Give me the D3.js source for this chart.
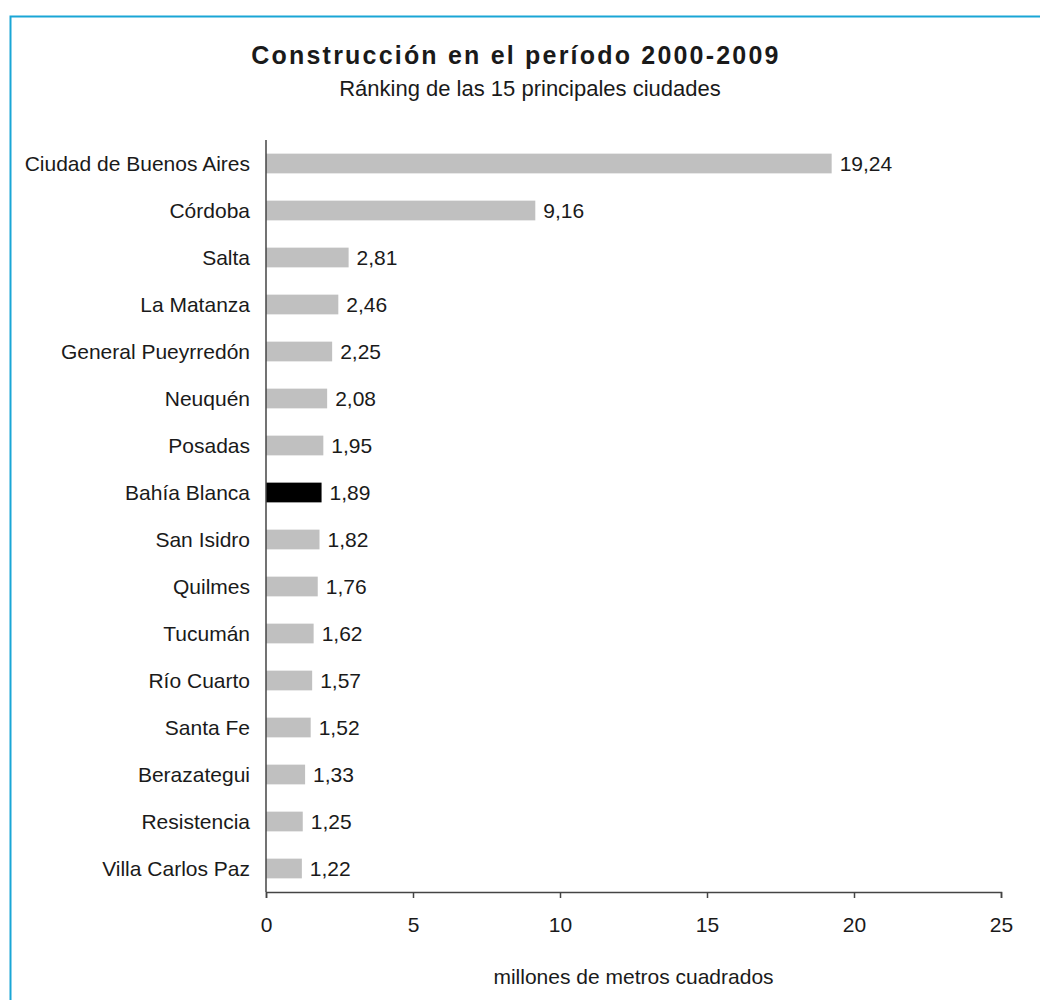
<!DOCTYPE html>
<html>
<head>
<meta charset="utf-8">
<script src="https://cdn.jsdelivr.net/npm/d3@7"></script>
<style>
  body { margin: 0; background: #fff; }
  text { font-family: "Liberation Sans", Arial, Helvetica, sans-serif; fill: #1a1a1a; }
</style>
</head>
<body>
<div id="chart"></div>
<script>
// ciudades y valores (millones de m2)
var cities = ["Ciudad de Buenos Aires", "Córdoba", "Salta", "La Matanza", "General Pueyrredón",
  "Neuquén", "Posadas", "Bahía Blanca", "San Isidro", "Quilmes", "Tucumán", "Río Cuarto",
  "Santa Fe", "Berazategui", "Resistencia", "Villa Carlos Paz"];
var values = [19.24, 9.16, 2.81, 2.46, 2.25, 2.08, 1.95, 1.89, 1.82, 1.76, 1.62, 1.57, 1.52, 1.33, 1.25, 1.22];
var highlight = "Bahía Blanca";
var xTicks = [0, 5, 10, 15, 20, 25];

var width = 1040, height = 1000;
var margin = {left: 266, right: 39, top: 140, bottom: 108};

var svg = d3.select("#chart").append("svg")
  .attr("width", width)
  .attr("height", height);

// marco
svg.append("rect")
  .attr("x", 10.5).attr("y", 16.5)
  .attr("width", 1100).attr("height", 1100)
  .attr("fill", "none")
  .attr("stroke", "#1aa6d6")
  .attr("stroke-width", 2);

var x = d3.scaleLinear().domain([0, 25]).range([margin.left, width - margin.right]);
var y = d3.scaleBand().domain(cities).range([margin.top, height - margin.bottom]).paddingInner(0.58).paddingOuter(0.29);

var data = cities.map(function(c, i) { return {city: c, value: values[i]}; });

svg.selectAll("rect.bar")
  .data(data)
  .enter().append("rect")
  .attr("class", "bar")
  .attr("x", x(0))
  .attr("y", function(d) { return y(d.city); })
  .attr("width", function(d) { return x(d.value) - x(0); })
  .attr("height", y.bandwidth())
  .attr("fill", function(d) { return d.city == highlight ? "#000" : "#c0c0c0"; });

var fmt = function(v) { return d3.format(".2f")(v).replace(".", ","); };

svg.selectAll("text.val")
  .data(data)
  .enter().append("text")
  .attr("class", "val")
  .attr("x", function(d) { return x(d.value) + 8; })
  .attr("y", function(d) { return y(d.city) + y.bandwidth() / 2; })
  .attr("dy", "0.35em")
  .style("font-size", "21px")
  .text(function(d) { return fmt(d.value); });

svg.selectAll("text.city")
  .data(data)
  .enter().append("text")
  .attr("class", "city")
  .attr("x", 250)
  .attr("y", function(d) { return y(d.city) + y.bandwidth() / 2; })
  .attr("dy", "0.35em")
  .attr("text-anchor", "end")
  .style("font-size", "21px")
  .text(function(d) { return d.city; });

// ejes
var axisY = height - margin.bottom;
var xAxis = svg.append("g")
  .attr("transform", "translate(0," + axisY + ")")
  .call(d3.axisBottom(x).tickValues(xTicks).tickSize(6).tickPadding(19).tickFormat(d3.format("d")));
xAxis.select(".domain").attr("stroke", "#444").attr("stroke-width", 1.5);
xAxis.selectAll(".tick line").attr("stroke", "#444").attr("stroke-width", 1.5);
xAxis.selectAll(".tick text")
  .style("font-size", "21px")
  .style("font-family", "'Liberation Sans', Arial, sans-serif")
  .attr("fill", "#1a1a1a");

svg.append("line")
  .attr("x1", x(0)).attr("x2", x(0))
  .attr("y1", margin.top).attr("y2", axisY)
  .attr("stroke", "#444").attr("stroke-width", 1.5);

svg.append("text")
  .attr("x", 516).attr("y", 64)
  .attr("text-anchor", "middle")
  .style("font-size", "25px")
  .style("font-weight", "bold")
  .style("letter-spacing", "2.2px")
  .attr("fill", "#000")
  .text("Construcción en el período 2000-2009");

svg.append("text")
  .attr("x", 530).attr("y", 96)
  .attr("text-anchor", "middle")
  .style("font-size", "22px")
  .text("Ránking de las 15 principales ciudades");

svg.append("text")
  .attr("x", x(12.5)).attr("y", 984)
  .attr("text-anchor", "middle")
  .style("font-size", "21px")
  .text("millones de metros cuadrados");
</script>
</body>
</html>
